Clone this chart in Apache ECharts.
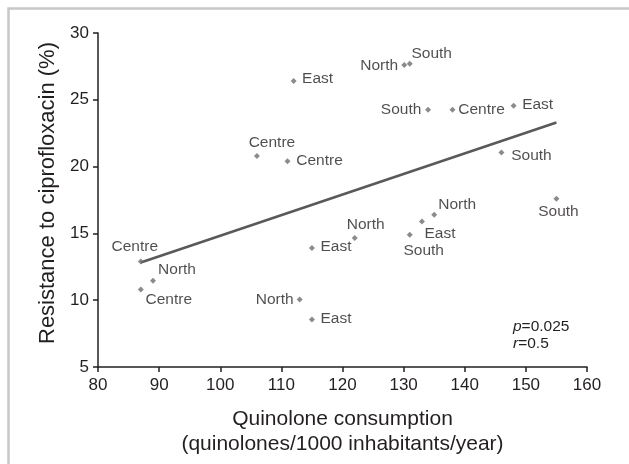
<!DOCTYPE html>
<html>
<head>
<meta charset="utf-8">
<script src="https://cdn.jsdelivr.net/npm/echarts@6/dist/echarts.min.js"></script>
<style>
  html, body { margin: 0; padding: 0; background: #fff; }
  #chart { width: 629px; height: 464px; }
</style>
</head>
<body>
<div id="chart"></div>
<script>
  // consumption (quinolones/1000 inhabitants/year) vs resistance (%)
  var consumption = [112, 106, 111, 130.1, 131, 134, 138, 148, 146, 155,
    87, 89, 87, 113, 115, 115, 122, 131, 133, 135];
  var resistance = [26.4, 20.8, 20.4, 27.6, 27.7, 24.25, 24.25, 24.55, 21.05, 17.6,
    12.9, 11.45, 10.8, 10.05, 8.55, 13.9, 14.65, 14.9, 15.9, 16.4];
  var regions = ["East", "Centre", "Centre", "North", "South", "South", "Centre", "East", "South", "South",
    "Centre", "North", "Centre", "North", "East", "East", "North", "South", "East", "North"];
  // regression line end points
  var trendX = [87, 155];
  var trendY = [12.82, 23.3];

  // label offsets from each marker (layout only)
  var labelOffset = [[24, -2], [15, -13], [32, -1], [-25, 1], [22, -10], [-27, 0], [29, 0], [24, -1], [30, 3], [2, 13],
    [-6, -15], [24, -11], [28, 10], [-25, 0], [24, -1], [24, -1], [11, -13], [14, 16], [18, 12], [23, -10]];

  var font = '"Liberation Sans", Arial, sans-serif';
  var ink = '#231f20';

  var points = consumption.map(function (x, i) {
    return {
      value: [x, resistance[i]],
      name: regions[i],
      label: { offset: labelOffset[i] }
    };
  });

  var myChart = echarts.init(document.getElementById('chart'));
  var option = {
    animation: false,
    backgroundColor: '#fff',
    grid: { left: 98, right: 42, top: 33, bottom: 97, containLabel: false },
    xAxis: {
      type: 'value', min: 80, max: 160, interval: 10,
      name: 'Quinolone consumption\n(quinolones/1000 inhabitants/year)',
      nameLocation: 'middle', nameGap: 40,
      nameTextStyle: { color: ink, fontSize: 21, fontFamily: font, lineHeight: 25 },
      axisLine: { lineStyle: { color: ink, width: 1.5 } },
      axisTick: { inside: false, length: 5, lineStyle: { color: ink, width: 1.5 } },
      axisLabel: { color: ink, fontSize: 17, fontFamily: font, margin: 10 },
      splitLine: { show: false }
    },
    yAxis: {
      type: 'value', min: 5, max: 30, interval: 5,
      name: 'Resistance to ciprofloxacin (%)',
      nameLocation: 'middle', nameGap: 39,
      nameTextStyle: { color: ink, fontSize: 22, fontFamily: font, padding: [0, 0, 0, 14] },
      axisLine: { lineStyle: { color: ink, width: 1.5 } },
      axisTick: { inside: false, length: 5, lineStyle: { color: ink, width: 1.5 } },
      axisLabel: { color: ink, fontSize: 17, fontFamily: font, margin: 9 },
      splitLine: { show: false }
    },
    series: [
      {
        type: 'line',
        data: trendX.map(function (x, i) { return [x, trendY[i]]; }),
        symbol: 'none',
        lineStyle: { color: '#58595b', width: 2.5 },
        z: 2
      },
      {
        type: 'scatter',
        data: points,
        symbol: 'diamond',
        symbolSize: 6,
        itemStyle: { color: '#6d6e71' },
        label: {
          show: true,
          position: 'inside',
          formatter: '{b}',
          color: ink,
          fontSize: 15.5,
          fontFamily: font
        },
        z: 3
      }
    ],
    graphic: [
      {
        type: 'rect',
        shape: { x: 8.5, y: 8.5, width: 640, height: 480 },
        style: { fill: 'none', stroke: '#c8c8c8', lineWidth: 2.5 },
        silent: true
      },
      {
        type: 'text', left: 513, top: 318,
        style: {
          text: '{i|p}=0.025\n{i|r}=0.5',
          fill: ink, font: '15.5px ' + font, lineHeight: 17,
          rich: { i: { fontStyle: 'italic', fontSize: 15.5, fontFamily: font, fill: ink } }
        }
      }
    ]
  };
  option && myChart.setOption(option);
</script>
</body>
</html>
